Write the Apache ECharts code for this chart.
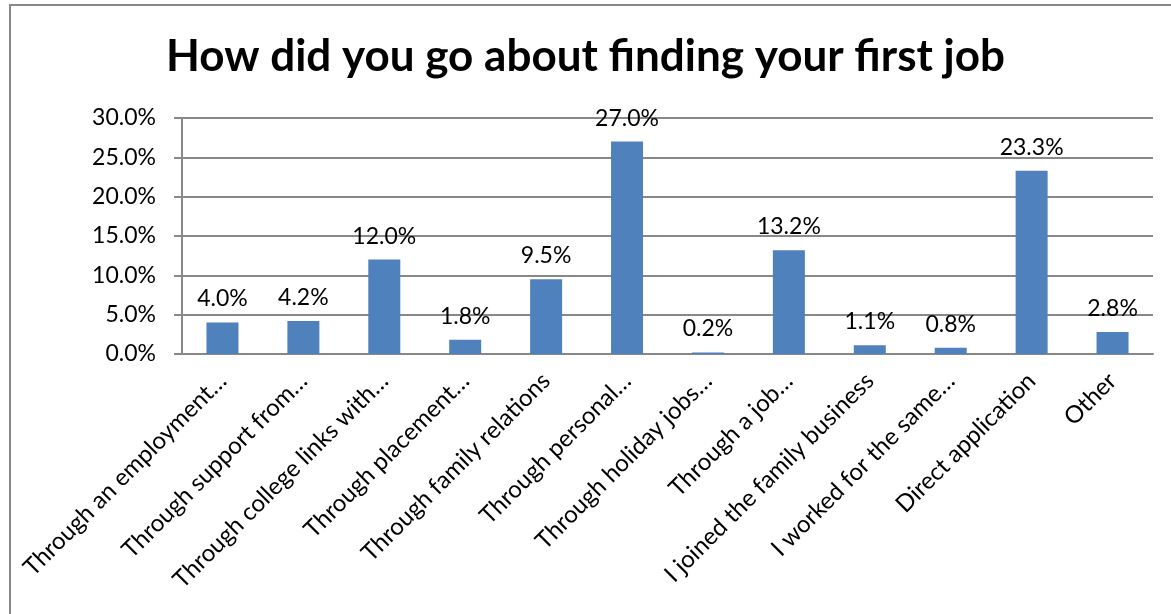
<!DOCTYPE html>
<html>
<head>
<meta charset="utf-8">
<script src="https://cdn.jsdelivr.net/npm/echarts@6/dist/echarts.min.js"></script>
<style>
  html, body { margin: 0; padding: 0; background: #fff; }
  #chart { width: 1171px; height: 614px; }
</style>
</head>
<body>
<div id="chart"></div>
<script>
// data
var categories = [
  'Through an employment…',
  'Through support from…',
  'Through college links with…',
  'Through placement…',
  'Through family relations',
  'Through personal…',
  'Through holiday jobs…',
  'Through a job…',
  'I joined the family business',
  'I worked for the same…',
  'Direct application',
  'Other'
];
var shares = [4.0, 4.2, 12.0, 1.8, 9.5, 27.0, 0.2, 13.2, 1.1, 0.8, 23.3, 2.8];

var font = 'Lato, "Open Sans", sans-serif';

var chart = echarts.init(document.getElementById('chart'));
chart.setOption({
  animation: false,
  title: {
    text: 'How did you go about finding your first job',
    left: 'center',
    top: 30,
    textStyle: { fontFamily: font, fontWeight: 'bold', fontSize: 44, color: '#000' }
  },
  graphic: [{
    type: 'rect',
    shape: { x: 10, y: 5, width: 1300, height: 800 },
    style: { fill: 'none', stroke: '#888', lineWidth: 2 },
    silent: true
  }],
  grid: { left: 182, right: 18, top: 118, bottom: 260 },
  xAxis: {
    type: 'category',
    data: categories,
    axisLine: { lineStyle: { color: '#888', width: 2 } },
    axisTick: { length: 8, lineStyle: { color: '#888', width: 2 } },
    axisLabel: {
      interval: 0, rotate: 45, margin: 23,
      fontFamily: font, fontSize: 24, color: '#000'
    }
  },
  yAxis: {
    type: 'value',
    min: 0, max: 30, interval: 5,
    axisLine: { show: true, lineStyle: { color: '#888', width: 2 } },
    axisTick: { show: true, length: 8, lineStyle: { color: '#888', width: 2 } },
    splitLine: { lineStyle: { color: '#888', width: 2 } },
    axisLabel: {
      margin: 26, fontFamily: font, fontSize: 23, color: '#000',
      formatter: function (v) { return v.toFixed(1) + '%'; }
    }
  },
  series: [{
    type: 'bar',
    data: shares,
    barWidth: 32,
    itemStyle: { color: '#4F81BD' },
    label: {
      show: true, position: 'top', distance: 12,
      fontFamily: font, fontSize: 23, color: '#000',
      formatter: function (p) { return p.value.toFixed(1) + '%'; }
    }
  }]
});
</script>
</body>
</html>
